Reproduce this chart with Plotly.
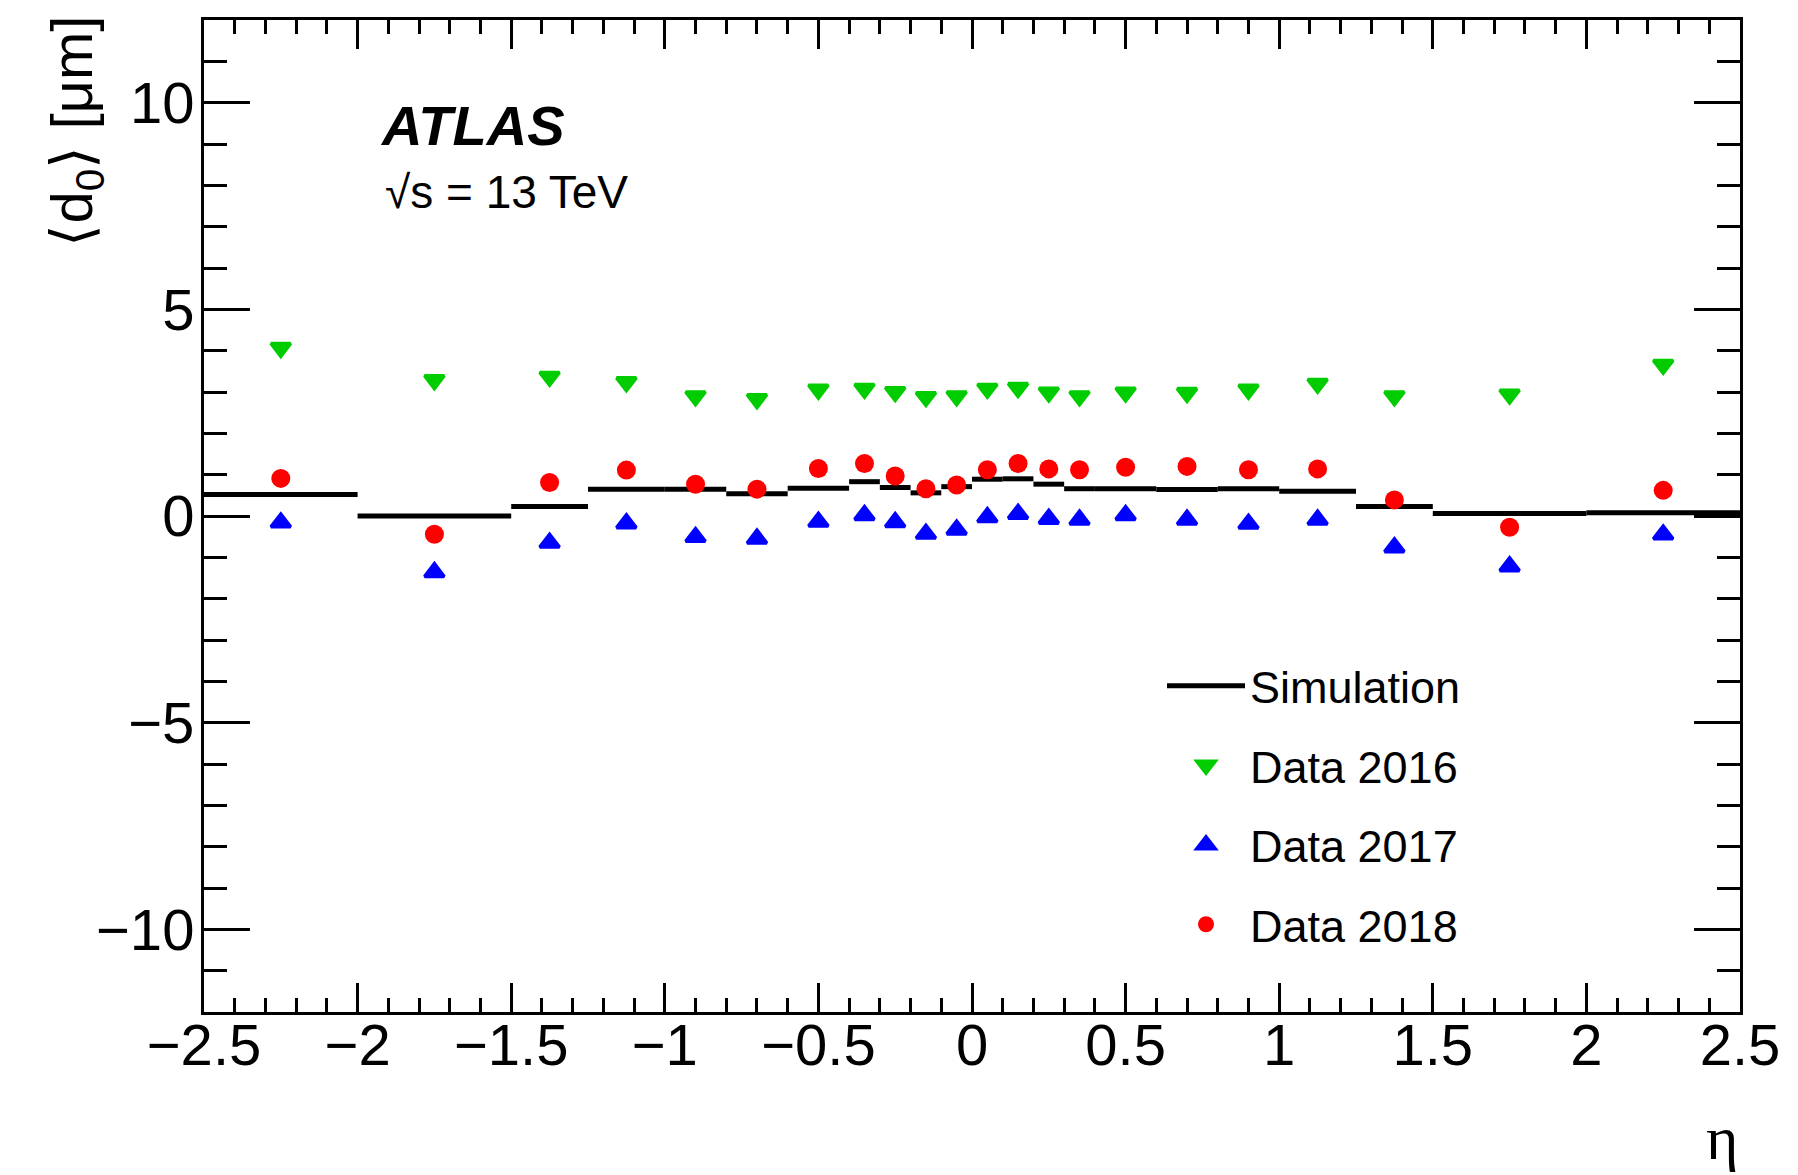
import plotly.graph_objects as go

# Simulation histogram: variable-width eta bins and mean d0 per bin [um]
bin_edges = [-2.5, -2.0, -1.5, -1.25, -1.0, -0.8, -0.6, -0.4, -0.3, -0.2, -0.1, 0.0,
             0.1, 0.2, 0.3, 0.4, 0.6, 0.8, 1.0, 1.25, 1.5, 2.0, 2.5]
sim_d0 = [0.52, 0.00, 0.23, 0.65, 0.65, 0.54, 0.67, 0.83, 0.69, 0.56, 0.71,
          0.89, 0.90, 0.77, 0.66, 0.66, 0.64, 0.66, 0.60, 0.23, 0.06, 0.08]

# Data points at bin centres
eta_centres = [-2.25, -1.75, -1.375, -1.125, -0.9, -0.7, -0.5, -0.35, -0.25, -0.15, -0.05,
               0.05, 0.15, 0.25, 0.35, 0.5, 0.7, 0.9, 1.125, 1.375, 1.75, 2.25]
data_2016 = [4.07, 3.29, 3.37, 3.24, 2.90, 2.83, 3.06, 3.08, 3.00, 2.88, 2.90,
             3.08, 3.10, 2.99, 2.90, 2.99, 2.98, 3.06, 3.20, 2.90, 2.94, 3.66]
data_2017 = [-0.16, -1.36, -0.65, -0.18, -0.51, -0.55, -0.14, 0.02, -0.15, -0.43, -0.33,
             -0.03, 0.05, -0.07, -0.09, 0.02, -0.09, -0.19, -0.09, -0.76, -1.22, -0.45]
data_2018 = [0.91, -0.44, 0.81, 1.11, 0.77, 0.65, 1.15, 1.27, 0.97, 0.66, 0.75,
             1.12, 1.27, 1.14, 1.12, 1.18, 1.20, 1.12, 1.14, 0.39, -0.27, 0.62]

FONT = "Liberation Sans, Arial, Helvetica, sans-serif"

# Horizontal segment per bin (no vertical connectors)
sim_x, sim_y = [], []
for lo, hi, v in zip(bin_edges[:-1], bin_edges[1:], sim_d0):
    sim_x += [lo, hi, None]
    sim_y += [v, v, None]

fig = go.Figure()
fig.add_trace(go.Scatter(x=sim_x, y=sim_y, mode="lines", name="Simulation",
                         line=dict(color="black", width=5), legendgroup="a"))
fig.add_trace(go.Scatter(x=eta_centres, y=data_2016, mode="markers", name="Data 2016",
                         marker=dict(symbol="triangle-down", size=17, color="#00cc00",
                                     line=dict(color="#00cc00", width=3.5)),
                         legendgroup="b"))
fig.add_trace(go.Scatter(x=eta_centres, y=data_2017, mode="markers", name="Data 2017",
                         marker=dict(symbol="triangle-up", size=17, color="#0000ff",
                                     line=dict(color="#0000ff", width=3.5)),
                         legendgroup="c"))
fig.add_trace(go.Scatter(x=eta_centres, y=data_2018, mode="markers", name="Data 2018",
                         marker=dict(symbol="circle", size=19, color="#ff0000",
                                     line=dict(width=0)),
                         legendgroup="d"))

axis_common = dict(showline=True, linecolor="black", linewidth=3, mirror="allticks",
                   ticks="inside", tickcolor="black", tickwidth=2.5,
                   showgrid=False, zeroline=False,
                   tickfont=dict(family=FONT, size=58, color="black"))

fig.update_xaxes(range=[-2.5, 2.5], tick0=0, dtick=0.5, ticklen=29, ticklabelstandoff=-20,
                 minor=dict(ticks="inside", ticklen=14, dtick=0.1, tick0=0,
                            tickwidth=2.5, tickcolor="black", showgrid=False),
                 **axis_common)
fig.update_yaxes(range=[-12, 12], tick0=0, dtick=5, ticklen=46, ticklabelstandoff=-5,
                 minor=dict(ticks="inside", ticklen=23, dtick=1, tick0=0,
                            tickwidth=2.5, tickcolor="black", showgrid=False),
                 **axis_common)

fig.add_annotation(text="<b><i>ATLAS</i></b>", xref="paper", yref="paper",
                   x=0.1133, y=0.927, xanchor="left", yanchor="top", showarrow=False,
                   font=dict(family=FONT, size=56, color="black"))
fig.add_annotation(text="√s = 13 TeV", xref="paper", yref="paper",
                   x=0.1165, y=0.8548, xanchor="left", yanchor="top", showarrow=False,
                   font=dict(family=FONT, size=46, color="black"))
fig.add_annotation(text="⟨d<sub>0</sub>⟩ [μm]", xref="paper", yref="paper",
                   x=(76 - 204) / 1536, y=1 + 6 / 992, xanchor="center", yanchor="top",
                   textangle=-90, showarrow=False,
                   font=dict(family=FONT, size=58, color="black"))
fig.add_annotation(text="η", xref="paper", yref="paper",
                   x=1, y=-(1174 - 1012) / 992, xanchor="right", yanchor="bottom",
                   showarrow=False,
                   font=dict(family="Liberation Serif, serif", size=62, color="black"))

fig.update_layout(
    width=1798, height=1175,
    margin=dict(l=204, r=58, t=20, b=163),
    paper_bgcolor="white", plot_bgcolor="white",
    font=dict(family=FONT, color="black"),
    showlegend=True,
    legend=dict(x=(1162 - 204) / 1536, y=1 - (650 - 20) / 992, xanchor="left", yanchor="top",
                bgcolor="rgba(0,0,0,0)", borderwidth=0, itemwidth=78,
                tracegroupgap=18, font=dict(family=FONT, size=45, color="black")),
)

fig.write_html("out.html")
